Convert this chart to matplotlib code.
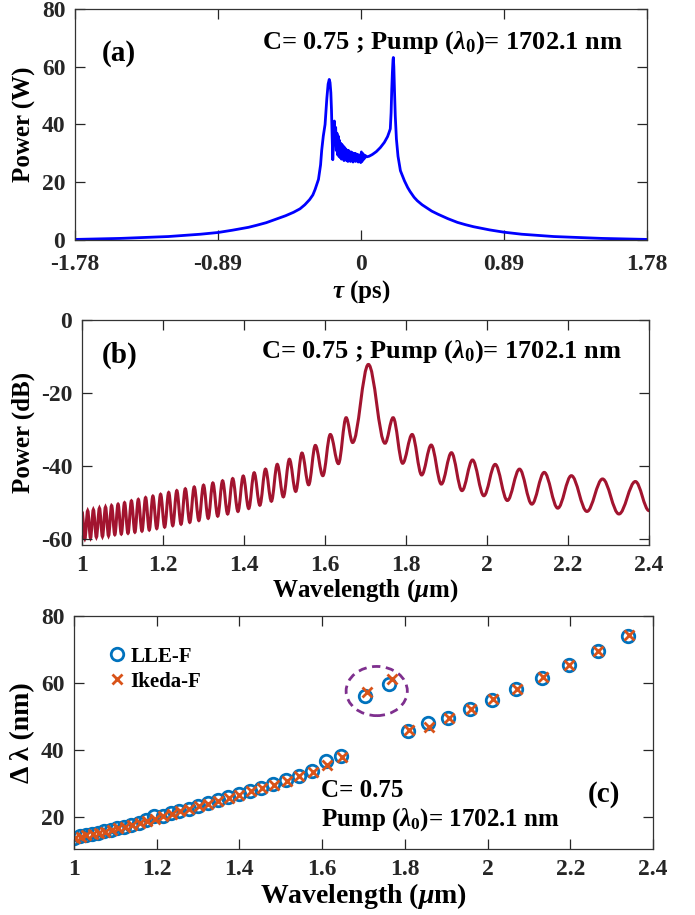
import numpy as np
import matplotlib
matplotlib.use("Agg")
import matplotlib.pyplot as plt
from matplotlib.path import Path
from matplotlib.patches import PathPatch, Ellipse
from matplotlib.ticker import FormatStrFormatter

# ---- panel (a): temporal power ----
tau_ps = [-1.78, -1.5, -1.2, -1.0, -0.89, -0.8, -0.7, -0.65, -0.59, -0.55,
          -0.47, -0.42, -0.38, -0.35, -0.32, -0.3, -0.286,
          -0.265, -0.252, -0.245, -0.235, -0.224, -0.213, -0.205, -0.198, -0.193, -0.188,
          -0.184, -0.18, -0.176, -0.171, -0.166, -0.162, -0.158, -0.154, -0.15, -0.146,
          -0.142, -0.138, -0.134, -0.13, -0.126, -0.122, -0.118, -0.114, -0.11, -0.106,
          -0.102, -0.098, -0.094, -0.09, -0.086, -0.082, -0.078, -0.074, -0.07, -0.066,
          -0.062, -0.058, -0.054, -0.05, -0.046, -0.042, -0.038, -0.034, -0.03, -0.026,
          -0.022, -0.018, -0.014, -0.01, -0.006, -0.002, 0.002, 0.006, 0.01, 0.014,
          0.018, 0.022, 0.028, 0.035, 0.05, 0.07, 0.095, 0.12, 0.145, 0.165,
          0.176, 0.182, 0.187, 0.191, 0.195, 0.199, 0.201, 0.204, 0.208, 0.213,
          0.22, 0.23, 0.245, 0.27, 0.29, 0.305, 0.33, 0.35, 0.38, 0.41, 0.44, 0.48,
          0.54, 0.6, 0.65, 0.7, 0.8, 0.89, 1.0, 1.2, 1.5, 1.78]
power_w = [0.2, 0.55, 1.2, 2.0, 2.6, 3.4, 4.4, 5.1, 6.0, 6.8,
           8.4, 9.6, 10.8, 12.2, 14.0, 15.6, 17.5,
           21.0, 26.0, 31.0, 36.0, 40.0, 49.0, 54.0, 55.6, 54.5, 51.0,
           45.0, 36.0, 27.8, 34.0, 41.2, 36.0, 39.0, 31.0, 37.0, 29.5,
           36.0, 29.0, 34.5, 28.5, 33.5, 28.0, 33.0, 28.5, 32.5, 27.5,
           32.0, 28.0, 31.5, 27.5, 31.0, 27.2, 31.0, 27.8, 30.5, 27.2,
           30.5, 27.5, 30.2, 27.0, 30.0, 27.5, 30.0, 27.2, 29.8, 27.5,
           29.5, 27.0, 29.5, 27.3, 29.0, 26.8, 30.5, 27.2, 30.0, 27.8,
           29.5, 28.3, 29.2, 28.8, 29.0, 29.6, 30.6, 32.0, 33.8, 35.8,
           37.5, 38.5, 44.0, 52.0, 58.0, 62.5, 63.2, 60.0, 52.0, 43.0,
           35.0, 29.0, 24.0, 20.5, 18.2, 16.8, 14.8, 13.6, 12.2, 11.1, 10.0, 8.9,
           7.4, 6.1, 5.3, 4.6, 3.5, 2.7, 2.0, 1.2, 0.55, 0.2]

# ---- panel (b): spectrum extrema ----
peak_um = [1.000, 1.014, 1.028, 1.043, 1.058, 1.073, 1.089, 1.105, 1.122, 1.139,
           1.157, 1.175, 1.194, 1.214, 1.234, 1.255, 1.277, 1.300, 1.323, 1.347,
           1.372, 1.398, 1.425, 1.453, 1.482, 1.512, 1.543, 1.576, 1.613, 1.652,
           1.707, 1.768, 1.815, 1.862, 1.912, 1.964, 2.020, 2.080, 2.141, 2.208,
           2.285, 2.366]
peak_db = [-52.6, -52.3, -52.0, -51.6, -51.3, -50.9, -50.5, -50.1, -49.6, -49.2,
           -48.7, -48.3, -47.8, -47.3, -46.8, -46.3, -45.8, -45.3, -44.7, -44.1,
           -43.5, -42.8, -41.9, -40.9, -39.6, -38.2, -36.5, -34.4, -31.4, -26.8,
           -12.2, -26.8, -31.4, -34.3, -36.4, -38.4, -39.6, -40.9, -41.8, -42.7,
           -43.6, -44.3]
trough_um = [1.007, 1.021, 1.0355, 1.0505, 1.0655, 1.081, 1.097, 1.1135, 1.1305, 1.148,
             1.166, 1.1845, 1.204, 1.224, 1.2445, 1.266, 1.2885, 1.3115, 1.335, 1.3595,
             1.385, 1.4115, 1.439, 1.4675, 1.497, 1.5275, 1.5595, 1.5945, 1.633, 1.668,
             1.748, 1.7915, 1.8385, 1.887, 1.938, 1.992, 2.050, 2.1105, 2.1745, 2.2465,
             2.3255, 2.400]
trough_db = [-60.0, -59.8, -59.6, -59.4, -59.2, -58.9, -58.7, -58.5, -58.2, -57.9,
             -57.6, -57.2, -56.8, -56.4, -56.0, -55.5, -55.0, -54.4, -53.8, -53.2,
             -52.5, -51.7, -50.8, -49.7, -48.5, -47.0, -45.2, -42.7, -39.4, -33.6,
             -33.8, -39.3, -42.5, -45.0, -46.8, -48.2, -49.5, -50.5, -51.6, -52.5,
             -53.2, -52.3]

# ---- panel (c): comb spacing ----
lle_um = [1.000, 1.014, 1.028, 1.043, 1.058, 1.073, 1.089, 1.105, 1.122, 1.139,
          1.157, 1.175, 1.194, 1.214, 1.234, 1.255, 1.277, 1.300, 1.323, 1.347,
          1.372, 1.398, 1.425, 1.453, 1.482, 1.512, 1.543, 1.575, 1.609, 1.646,
          1.704, 1.762, 1.807, 1.855, 1.905, 1.958, 2.010, 2.070, 2.132, 2.196,
          2.266, 2.340]
lle_nm = [13.8, 14.2, 14.5, 14.9, 15.3, 15.7, 16.1, 16.6, 17.1, 17.7,
          18.3, 19.0, 20.3, 20.4, 21.1, 21.8, 22.5, 23.3, 24.1, 24.9,
          25.8, 26.8, 27.7, 28.7, 29.8, 31.0, 32.3, 33.8, 36.6, 38.1,
          56.0, 59.8, 45.8, 48.2, 49.5, 52.1, 55.0, 58.1, 61.6, 65.3,
          69.5, 74.0]
ikeda_um = [1.002, 1.016, 1.030, 1.045, 1.060, 1.075, 1.091, 1.107, 1.124, 1.141,
            1.159, 1.177, 1.196, 1.216, 1.236, 1.257, 1.279, 1.302, 1.325, 1.349,
            1.374, 1.400, 1.427, 1.455, 1.484, 1.514, 1.545, 1.577, 1.611, 1.648,
            1.708, 1.768, 1.809, 1.858, 1.908, 1.960, 2.013, 2.072, 2.134, 2.198,
            2.268, 2.342]
ikeda_nm = [13.8, 14.1, 14.5, 14.9, 15.3, 15.6, 16.1, 16.6, 17.1, 17.6,
            18.2, 18.9, 19.5, 20.3, 21.0, 21.7, 22.4, 23.2, 24.0, 24.8,
            25.7, 26.6, 27.6, 28.6, 29.6, 30.8, 32.1, 33.5, 35.4, 38.0,
            57.2, 61.1, 45.9, 47.0, 49.6, 52.3, 55.2, 58.3, 61.8, 65.5,
            69.7, 74.2]

label = r"C= 0.75 ; Pump ($\lambda_0$)= 1702.1 nm"

plt.rcParams["font.family"] = ["Liberation Serif", "DejaVu Serif"]
plt.rcParams["font.weight"] = "bold"
plt.rcParams["axes.labelweight"] = "bold"
plt.rcParams["axes.unicode_minus"] = False
plt.rcParams["mathtext.fontset"] = "custom"
plt.rcParams["mathtext.rm"] = "Liberation Serif:bold"
plt.rcParams["mathtext.it"] = "Liberation Serif:italic:bold"
plt.rcParams["mathtext.bf"] = "Liberation Serif:bold"


def style(ax):
    for s in ax.spines.values():
        s.set_color("0.2")
        s.set_linewidth(0.9)
    ax.tick_params(direction="in", top=True, right=True, length=7, width=0.9,
                   labelsize=17, colors="0.15", pad=7)
    for t in ax.get_xticklabels() + ax.get_yticklabels():
        t.set_fontweight("bold")


def smooth_path(xs, ys, k=0.36):
    verts = [(xs[0], ys[0])]
    codes = [Path.MOVETO]
    for i in range(1, len(xs)):
        dx = xs[i] - xs[i - 1]
        verts += [(xs[i - 1] + k * dx, ys[i - 1]), (xs[i] - k * dx, ys[i]), (xs[i], ys[i])]
        codes += [Path.CURVE4] * 3
    return Path(verts, codes)


fig = plt.figure(figsize=(6.95, 9.15), dpi=100)
ax_a = fig.add_axes([0.108, 0.7377, 0.823, 0.2525])
ax_b = fig.add_axes([0.118, 0.4044, 0.816, 0.2459])
ax_c = fig.add_axes([0.1065, 0.0721, 0.833, 0.2546])

# (a)
ax_a.plot(tau_ps, power_w, color="#0000FF", lw=2)
ax_a.set_xlim(-1.78, 1.78)
ax_a.set_ylim(0, 80)
ax_a.set_xticks([-1.78, -0.89, 0, 0.89, 1.78])
ax_a.set_xticklabels(["-1.78", "-0.89", "0", "0.89", "1.78"])
ax_a.set_yticks([0, 20, 40, 60, 80])
ax_a.set_xlabel(r"$\tau$ (ps)", fontsize=18, labelpad=2)
ax_a.set_ylabel("Power (W)", fontsize=18, labelpad=4)
ax_a.text(0.046, 0.808, "(a)", transform=ax_a.transAxes, fontsize=21, va="center")
ax_a.text(0.326, 0.854, label, transform=ax_a.transAxes, fontsize=19, va="center")
style(ax_a)
ax_a.tick_params(axis="x", pad=10)

# (b)
pts = sorted(zip(peak_um + trough_um, peak_db + trough_db))
bx = [p[0] for p in pts]
by = [p[1] for p in pts]
ax_b.add_patch(PathPatch(smooth_path(bx, by), facecolor="none",
                         edgecolor="#A2142F", lw=2.2))
ax_b.set_xlim(1, 2.4)
ax_b.set_ylim(-61.7, 0)
ax_b.set_xticks(np.arange(1, 2.41, 0.2))
ax_b.xaxis.set_major_formatter(FormatStrFormatter("%g"))
ax_b.set_yticks([-60, -40, -20, 0])
ax_b.set_xlabel(r"Wavelength ($\mu$m)", fontsize=18, labelpad=1)
ax_b.set_ylabel("Power (dB)", fontsize=18, labelpad=4)
ax_b.text(0.034, 0.844, "(b)", transform=ax_b.transAxes, fontsize=21, va="center")
ax_b.text(0.316, 0.859, label, transform=ax_b.transAxes, fontsize=19, va="center")
style(ax_b)

# (c)
ax_c.plot(lle_um, lle_nm, "o", mfc="none", mec="#0072BD", ms=9, mew=2, label="LLE-F")
ax_c.plot(ikeda_um, ikeda_nm, "x", color="#D95319", ms=7, mew=2, label="Ikeda-F")
ax_c.add_patch(Ellipse((1.732, 57.6), 0.148, 14.7, fill=False, ls=(0, (3, 2)),
                       edgecolor="#7E2F8E", lw=2))
ax_c.set_xlim(1, 2.4)
ax_c.set_ylim(10.4, 80)
ax_c.set_xticks(np.arange(1, 2.41, 0.2))
ax_c.xaxis.set_major_formatter(FormatStrFormatter("%g"))
ax_c.set_yticks([20, 40, 60, 80])
ax_c.set_xlabel(r"Wavelength ($\mu$m)", fontsize=20, labelpad=1)
ax_c.set_ylabel("Δ λ (nm)", fontsize=20, labelpad=4)
ax_c.legend(loc="upper left", bbox_to_anchor=(0.045, 0.905), frameon=False,
            fontsize=15, handlelength=0.8, handletextpad=0.25, labelspacing=0.25,
            borderaxespad=0)
ax_c.text(0.4266, 0.25, "C= 0.75", transform=ax_c.transAxes, fontsize=18, va="center")
ax_c.text(0.4266, 0.127, r"Pump ($\lambda_0$)= 1702.1 nm", transform=ax_c.transAxes,
          fontsize=18, va="center")
ax_c.text(0.888, 0.232, "(c)", transform=ax_c.transAxes, fontsize=21, va="center")
style(ax_c)

fig.savefig("out.png", dpi=100)
